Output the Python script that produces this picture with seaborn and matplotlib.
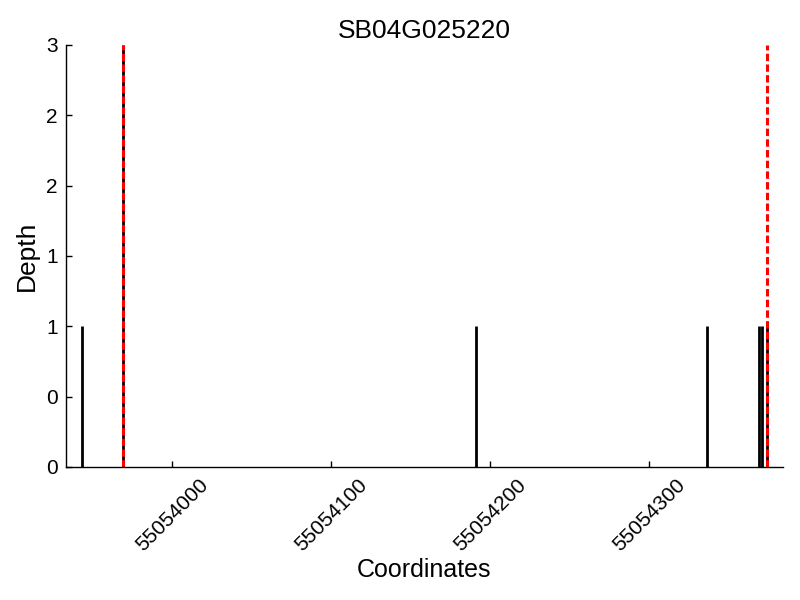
import matplotlib
matplotlib.use("Agg")
import matplotlib.pyplot as plt
from matplotlib.ticker import FuncFormatter, MultipleLocator
import seaborn as sns

TITLE = "SB04G025220"
# read depth positions and values
positions = [55053943, 55053969, 55054191, 55054336, 55054369, 55054371, 55054374]
depths = [1, 3, 1, 1, 1, 1, 1]
# boundary markers (red dashed)
boundaries = [55053969, 55054374]
x_limits = (55053933, 55054384)
x_ticks = [55054000, 55054100, 55054200, 55054300]


def main():
    sns.set_style("ticks")
    plt.rcParams["font.family"] = ["Liberation Sans", "DejaVu Sans"]
    for key in ["text.color", "axes.labelcolor", "xtick.color", "ytick.color"]:
        plt.rcParams[key] = "black"

    fig = plt.figure(figsize=(8, 6), dpi=100)
    ax = fig.add_axes([0.0825, 0.2217, 0.896, 0.7033])

    ax.vlines(positions, 0, depths, color="black", linewidth=2)
    for b in boundaries:
        ax.axvline(b, color="red", linestyle="--", dashes=(2.4, 1.1), linewidth=2.2)

    ax.set_xlim(*x_limits)
    ax.set_ylim(0, 3)
    ax.set_xticks(x_ticks)
    ax.yaxis.set_major_locator(MultipleLocator(0.5))
    ax.yaxis.set_major_formatter(FuncFormatter(lambda v, p: "%d" % v))
    ax.ticklabel_format(axis="x", useOffset=False, style="plain")

    ax.tick_params(direction="in", length=4, width=1, labelsize=15, color="black", pad=6)
    plt.setp(ax.get_xticklabels(), rotation=45)
    for s in ["left", "bottom"]:
        ax.spines[s].set_color("black")
        ax.spines[s].set_linewidth(1)
    sns.despine(ax=ax)

    ax.set_title(TITLE, fontsize=19, pad=5)
    ax.set_xlabel("Coordinates", fontsize=18, labelpad=2)
    ax.set_ylabel("Depth", fontsize=19, labelpad=5)

    fig.savefig("out.png", dpi=100)


if __name__ == "__main__":
    main()
